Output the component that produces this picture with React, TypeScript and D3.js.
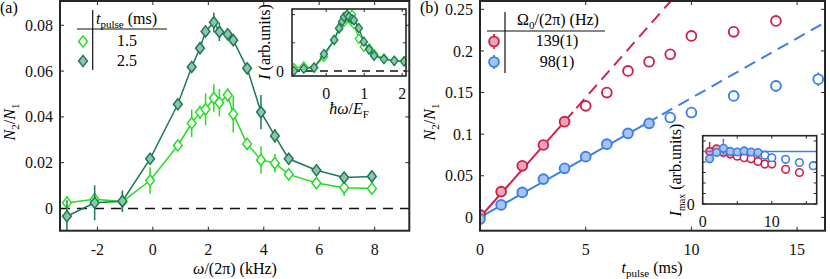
import React from "react";
import * as d3 from "d3";

// ---------- Data: panel (a) ----------
const freqKHz = [-3.1, -2.1, -1.1, -0.1, 0.9, 1.4, 1.7, 1.9, 2.2, 2.4, 2.7, 2.9, 3.4, 3.9, 4.4, 4.9, 5.9, 6.9, 7.9];
const ratio15 = [0.0025, 0.004, 0.003, 0.0122, 0.0275, 0.0372, 0.042, 0.0433, 0.0482, 0.0462, 0.0495, 0.0412, 0.0282, 0.0212, 0.0198, 0.0149, 0.0111, 0.0091, 0.0087];
const err15 = [0.003, 0.003, 0.004, 0.0058, 0.002, 0.006, 0.003, 0.007, 0.006, 0.006, 0.003, 0.008, 0.002, 0.006, 0.004, 0.002, 0.002, 0.0036, 0.002];
const ratio25 = [-0.0034, 0.0025, 0.0032, 0.0217, 0.0455, 0.0618, 0.07, 0.0773, 0.0813, 0.0771, 0.0761, 0.0735, 0.0612, 0.0421, 0.0317, 0.0217, 0.0167, 0.0135, 0.014];
const err25 = [0.007, 0.0076, 0.0047, 0.002, 0.002, 0.002, 0.002, 0.002, 0.0043, 0.004, 0.002, 0.002, 0.002, 0.0075, 0.003, 0.002, 0.0015, 0.0015, 0.002];

const insetAX = [-0.85, -0.59, -0.32, -0.06, 0.21, 0.34, 0.42, 0.47, 0.55, 0.6, 0.68, 0.73, 0.86, 0.99, 1.13, 1.26, 1.52, 1.79, 2.05];
const insetALight = [0.05, 0.08, 0.06, 0.25, 0.55, 0.75, 0.85, 0.87, 0.97, 0.93, 1.0, 0.83, 0.57, 0.43, 0.4, 0.3, 0.22, 0.18, 0.17];
const insetADark = [0.0, 0.04, 0.06, 0.3, 0.55, 0.76, 0.88, 0.96, 1.0, 0.96, 0.92, 0.9, 0.76, 0.52, 0.38, 0.27, 0.21, 0.18, 0.17];

const legendA = ["1.5", "2.5"];

// ---------- Data: panel (b) ----------
const tRed = [0, 1, 2, 3, 4, 5, 6, 7, 8, 9, 10, 12, 14];
const ratioRed = [0.003, 0.031, 0.062, 0.087, 0.115, 0.134, 0.15, 0.176, 0.187, 0.196, 0.218, 0.223, 0.236];
const errRed = [0.002, 0.003, 0.003, 0.003, 0.003, 0.003, 0.003, 0.003, 0.004, 0.006, 0.003, 0.003, 0.004];
const tBlue = [0, 1, 2, 3, 4, 5, 6, 7, 8, 9, 10, 12, 14, 16];
const ratioBlue = [-0.002, 0.015, 0.03, 0.046, 0.059, 0.073, 0.088, 0.101, 0.113, 0.12, 0.126, 0.146, 0.158, 0.166];
const errBlue = [0.002, 0.002, 0.002, 0.002, 0.002, 0.002, 0.002, 0.002, 0.002, 0.004, 0.003, 0.006, 0.007, 0.008];
const slopeRed = 0.0288;
const slopeBlue = 0.01435;
const fitEndRed = 4.4;
const fitEndBlue = 8.4;
const filledMaxRed = 4;
const filledMaxBlue = 8;

const tInRed = [1, 2, 3, 4, 5, 6, 7, 8, 9, 10, 12, 14];
const imaxRed = [1.0, 1.05, 0.98, 0.95, 0.91, 0.88, 0.86, 0.81, 0.76, 0.76, 0.66, 0.6];
const imaxRedErr = [0.18, 0.03, 0.03, 0.03, 0.03, 0.03, 0.03, 0.03, 0.03, 0.03, 0.03, 0.03];
const tInBlue = [1, 2, 3, 4, 5, 6, 7, 8, 9, 10, 12, 14, 16];
const imaxBlue = [0.86, 0.98, 1.06, 1.0, 0.99, 1.01, 0.99, 0.98, 0.93, 0.88, 0.85, 0.79, 0.73];
const imaxBlueErr = [0.03, 0.03, 0.18, 0.03, 0.03, 0.03, 0.03, 0.03, 0.03, 0.03, 0.03, 0.03, 0.03];
const imaxRef = 1.0;

const legendB = ["139(1)", "98(1)"];

// ---------- Style ----------
const FONT = "'Liberation Serif', 'Times New Roman', serif";
const AX = "#262626";
const DARK = "#1b7a55";
const DARK_FILL = "#8fc4a8";
const LIGHT = "#25dc25";
const RED = "#d0214b";
const RED_FILL = "#e9a7b7";
const BLUE = "#3b7fea";
const BLUE_FILL = "#a9c3ee";
const FS = 16;

const diamond = (hw: number, hh: number) => `M0,${-hh}L${hw},0L0,${hh}L${-hw},0Z`;

type Scale = d3.ScaleLinear<number, number>;

function Frame(p: {
  xs: Scale; ys: Scale; xTicks: number[]; yTicks: number[];
  xLabels: [number, string][]; yLabels: [number, string][];
  xLabBase: number; yLabGap: number; tl: number; sw: number; fill?: string; fs?: number;
}) {
  const [x0, x1] = p.xs.range();
  const [y0, y1] = p.ys.range();
  const fs = p.fs ?? FS;
  return (
    <g>
      <rect x={x0} y={y1} width={x1 - x0} height={y0 - y1} fill={p.fill ?? "none"} stroke="none" />
      {p.xTicks.map((t) => (
        <g key={"xt" + t} stroke={AX} strokeWidth={1}>
          <line x1={p.xs(t)} x2={p.xs(t)} y1={y0} y2={y0 - p.tl} />
          <line x1={p.xs(t)} x2={p.xs(t)} y1={y1} y2={y1 + p.tl} />
        </g>
      ))}
      {p.yTicks.map((t) => (
        <g key={"yt" + t} stroke={AX} strokeWidth={1}>
          <line x1={x0} x2={x0 + p.tl} y1={p.ys(t)} y2={p.ys(t)} />
          <line x1={x1} x2={x1 - p.tl} y1={p.ys(t)} y2={p.ys(t)} />
        </g>
      ))}
      {p.xLabels.map(([t, s]) => (
        <text key={"xl" + t} x={p.xs(t)} y={p.xLabBase} textAnchor="middle" fontSize={fs} fontFamily={FONT} fill="#111">{s}</text>
      ))}
      {p.yLabels.map(([t, s]) => (
        <text key={"yl" + t} x={x0 - p.yLabGap} y={p.ys(t)} dy="0.35em" textAnchor="end" fontSize={fs} fontFamily={FONT} fill="#111">{s}</text>
      ))}
    </g>
  );
}

function FrameBorder({ xs, ys, sw }: { xs: Scale; ys: Scale; sw: number }) {
  const [x0, x1] = xs.range();
  const [y0, y1] = ys.range();
  return <rect x={x0} y={y1} width={x1 - x0} height={y0 - y1} fill="none" stroke={AX} strokeWidth={sw} />;
}

export default function App() {
  // ---------- Panel (a) scales ----------
  const xa = d3.scaleLinear().domain([-3.35, 9.25]).range([60, 409.3]);
  const ya = d3.scaleLinear().domain([-0.0097, 0.0906]).range([230.7, 1]);
  const xia = d3.scaleLinear().domain([-0.9, 2.1]).range([292, 406]);
  const yia = d3.scaleLinear().domain([-0.09, 1.1]).range([76, 9]);

  // ---------- Panel (b) scales ----------
  const xb = d3.scaleLinear().domain([0, 16.32]).range([480, 825]);
  const yb = d3.scaleLinear().domain([-0.016, 0.26]).range([230.7, 1]);
  const xib = d3.scaleLinear().domain([0, 16.5]).range([702.7, 816.7]);
  const yib = d3.scaleLinear().domain([0, 1.3]).range([204, 135.7]);

  const lineA = d3.line<number>().x((_, i) => xa(freqKHz[i]));
  const pathLight = lineA.y((d) => ya(d))(ratio15) as string;
  const pathDark = d3.line<number>().x((_, i) => xa(freqKHz[i])).y((d) => ya(d))(ratio25) as string;
  const pathInLight = d3.line<number>().x((_, i) => xia(insetAX[i])).y((d) => yia(d))(insetALight) as string;
  const pathInDark = d3.line<number>().x((_, i) => xia(insetAX[i])).y((d) => yia(d))(insetADark) as string;

  const fit = (slope: number, t0: number, t1: number, xs: Scale, ys: Scale) =>
    d3.line<number>().x((t) => xs(t)).y((t) => ys(slope * t))([t0, t1]) as string;
  const tTopRed = Math.min(yb.domain()[1] / slopeRed, xb.domain()[1]);
  const tEndBlue = xb.domain()[1];

  const dMain = diamond(4.4, 5.6);
  const dIn = diamond(3.6, 4.6);

  const sub = (s: string, size = 11) => (
    <tspan fontSize={size} dy={4}>{s}</tspan>
  );

  return (
    <svg width={830} height={279} style={{ position: "absolute", left: 0, top: 0, background: "#fff" }} fontFamily={FONT}>
      <defs>
        <clipPath id="clipA"><rect x={60} y={1} width={349.3} height={229.7} /></clipPath>
        <clipPath id="clipB"><rect x={480} y={1} width={345} height={229.7} /></clipPath>
        <clipPath id="clipIA"><rect x={292} y={9} width={114} height={67} /></clipPath>
        <clipPath id="clipIB"><rect x={702.7} y={135.7} width={114} height={68.3} /></clipPath>
      </defs>

      {/* ================= Panel (a) ================= */}
      <Frame xs={xa} ys={ya} xTicks={[-2, 0, 2, 4, 6, 8]} yTicks={[0, 0.02, 0.04, 0.06, 0.08]}
        xLabels={[[-2, "-2"], [0, "0"], [2, "2"], [4, "4"], [6, "6"], [8, "8"]]}
        yLabels={[[0, "0"], [0.02, "0.02"], [0.04, "0.04"], [0.06, "0.06"], [0.08, "0.08"]]}
        xLabBase={255} yLabGap={7} tl={4} sw={2} />
      <g clipPath="url(#clipA)">
        <line x1={xa.range()[0]} x2={xa.range()[1]} y1={ya(0)} y2={ya(0)} stroke="#111" strokeWidth={1.6} strokeDasharray="10,7" />
        <path d={pathLight} fill="none" stroke={LIGHT} strokeWidth={1.5} />
        {freqKHz.map((f, i) => (
          <line key={"el" + i} x1={xa(f)} x2={xa(f)} y1={ya(ratio15[i] - err15[i])} y2={ya(ratio15[i] + err15[i])} stroke={LIGHT} strokeWidth={1.5} />
        ))}
        {freqKHz.map((f, i) => (
          <path key={"ml" + i} d={dMain} transform={`translate(${xa(f)},${ya(ratio15[i])})`} fill="#fff" stroke={LIGHT} strokeWidth={1.5} />
        ))}
        <path d={pathDark} fill="none" stroke={DARK} strokeWidth={1.5} />
        {freqKHz.map((f, i) => (
          <line key={"ed" + i} x1={xa(f)} x2={xa(f)} y1={ya(ratio25[i] - err25[i])} y2={ya(ratio25[i] + err25[i])} stroke={DARK} strokeWidth={1.5} />
        ))}
        {freqKHz.map((f, i) => (
          <path key={"md" + i} d={dMain} transform={`translate(${xa(f)},${ya(ratio25[i])})`} fill={DARK_FILL} stroke={DARK} strokeWidth={1.5} />
        ))}
      </g>
      <FrameBorder xs={xa} ys={ya} sw={2} />

      {/* legend (a) */}
      <g>
        <line x1={92.7} x2={92.7} y1={10} y2={70} stroke="#111" strokeWidth={1.2} />
        <line x1={77} x2={167} y1={29} y2={29} stroke="#111" strokeWidth={1.2} />
        <text x={96} y={24} fontSize={FS}>
          <tspan fontStyle="italic">t</tspan>{sub("pulse")}<tspan dy={-4}> (ms)</tspan>
        </text>
        <path d={dMain} transform="translate(83,41.5)" fill="#fff" stroke={LIGHT} strokeWidth={1.5} />
        <path d={dMain} transform="translate(83,61)" fill={DARK_FILL} stroke={DARK} strokeWidth={1.5} />
        <text x={127} y={46} textAnchor="middle" fontSize={FS}>{legendA[0]}</text>
        <text x={127} y={66} textAnchor="middle" fontSize={FS}>{legendA[1]}</text>
      </g>

      {/* inset (a) */}
      <Frame xs={xia} ys={yia} xTicks={[0, 1, 2]} yTicks={[0, 0.5, 1]}
        xLabels={[[0, "0"], [1, "1"], [2, "2"]]} yLabels={[[0, "0"]]}
        xLabBase={99} yLabGap={8} tl={3} sw={1.6} fill="#fff" />
      <g clipPath="url(#clipIA)">
        <line x1={xia.range()[0]} x2={xia.range()[1]} y1={yia(0)} y2={yia(0)} stroke="#111" strokeWidth={1.5} strokeDasharray="8,6" />
        <path d={pathInLight} fill="none" stroke={LIGHT} strokeWidth={1.3} />
        {insetAX.map((f, i) => (
          <path key={"il" + i} d={dIn} transform={`translate(${xia(f)},${yia(insetALight[i])})`} fill="#fff" stroke={LIGHT} strokeWidth={1.3} />
        ))}
        <path d={pathInDark} fill="none" stroke={DARK} strokeWidth={1.3} />
        {insetAX.map((f, i) => (
          <path key={"id" + i} d={dIn} transform={`translate(${xia(f)},${yia(insetADark[i])})`} fill={DARK_FILL} stroke={DARK} strokeWidth={1.3} />
        ))}
      </g>
      <FrameBorder xs={xia} ys={yia} sw={1.6} />
      <text transform="translate(270,42) rotate(-90)" textAnchor="middle" fontSize={FS}>
        <tspan fontStyle="italic">I</tspan> (arb.units)
      </text>
      <text x={349} y={114} textAnchor="middle" fontSize={FS}>
        <tspan fontStyle="italic">ħω</tspan>/<tspan fontStyle="italic">E</tspan>{sub("F")}
      </text>

      {/* axis labels (a) */}
      <text transform="translate(15,122) rotate(-90)" textAnchor="middle" fontSize={FS}>
        <tspan fontStyle="italic">N</tspan>{sub("2")}<tspan dy={-4}>/</tspan><tspan fontStyle="italic">N</tspan>{sub("1")}
      </text>
      <text x={235} y={274} textAnchor="middle" fontSize={FS}>
        <tspan fontStyle="italic">ω</tspan>/(2π) (kHz)
      </text>
      <text x={0} y={13} fontSize={FS}>(a)</text>

      {/* ================= Panel (b) ================= */}
      <Frame xs={xb} ys={yb} xTicks={[0, 5, 10, 15]} yTicks={[0, 0.05, 0.1, 0.15, 0.2, 0.25]}
        xLabels={[[0, "0"], [5, "5"], [10, "10"], [15, "15"]]}
        yLabels={[[0, "0"], [0.05, "0.05"], [0.1, "0.1"], [0.15, "0.15"], [0.2, "0.2"], [0.25, "0.25"]]}
        xLabBase={255} yLabGap={7} tl={4} sw={2} />
      <g clipPath="url(#clipB)">
        <path d={fit(slopeRed, 0, fitEndRed, xb, yb)} stroke={RED} strokeWidth={2} fill="none" />
        <path d={fit(slopeRed, fitEndRed, tTopRed, xb, yb)} stroke={RED} strokeWidth={2} fill="none" strokeDasharray="12,7" strokeDashoffset={-5} />
        <path d={fit(slopeBlue, 0, fitEndBlue, xb, yb)} stroke={BLUE} strokeWidth={2} fill="none" />
        <path d={fit(slopeBlue, fitEndBlue, tEndBlue, xb, yb)} stroke={BLUE} strokeWidth={2} fill="none" strokeDasharray="12,7" strokeDashoffset={-5} />
        {tRed.map((t, i) => (
          <g key={"r" + i}>
            <line x1={xb(t)} x2={xb(t)} y1={yb(ratioRed[i] - errRed[i])} y2={yb(ratioRed[i] + errRed[i])} stroke={RED} strokeWidth={1.8} />
            <circle cx={xb(t)} cy={yb(ratioRed[i])} r={4.9} fill={t <= filledMaxRed ? RED_FILL : "#fff"} stroke={RED} strokeWidth={1.9} />
          </g>
        ))}
        {tBlue.map((t, i) => (
          <g key={"b" + i}>
            <line x1={xb(t)} x2={xb(t)} y1={yb(ratioBlue[i] - errBlue[i])} y2={yb(ratioBlue[i] + errBlue[i])} stroke={BLUE} strokeWidth={1.8} />
            <circle cx={xb(t)} cy={yb(ratioBlue[i])} r={4.9} fill={t <= filledMaxBlue ? BLUE_FILL : "#fff"} stroke={BLUE} strokeWidth={1.9} />
          </g>
        ))}
      </g>
      <FrameBorder xs={xb} ys={yb} sw={2} />

      {/* legend (b) */}
      <g>
        <line x1={505} x2={505} y1={12} y2={73} stroke="#111" strokeWidth={1.2} />
        <line x1={487} x2={605} y1={31} y2={31} stroke="#111" strokeWidth={1.2} />
        <text x={558} y={25} textAnchor="middle" fontSize={FS}>
          Ω{sub("0")}<tspan dy={-4}>/(2π) (Hz)</tspan>
        </text>
        <line x1={494} x2={494} y1={34} y2={49} stroke={RED} strokeWidth={1.8} />
        <circle cx={494} cy={41.5} r={4.9} fill={RED_FILL} stroke={RED} strokeWidth={1.9} />
        <line x1={494} x2={494} y1={55} y2={69} stroke={BLUE} strokeWidth={1.8} />
        <circle cx={494} cy={62} r={4.9} fill={BLUE_FILL} stroke={BLUE} strokeWidth={1.9} />
        <text x={557} y={46} textAnchor="middle" fontSize={FS}>{legendB[0]}</text>
        <text x={557} y={67} textAnchor="middle" fontSize={FS}>{legendB[1]}</text>
      </g>

      {/* inset (b) */}
      <Frame xs={xib} ys={yib} xTicks={[0, 5, 10, 15]} yTicks={[0, 0.2, 0.4, 0.6, 0.8, 1.0, 1.2]}
        xLabels={[[0, "0"], [10, "10"]]} yLabels={[[0, "0"]]}
        xLabBase={227} yLabGap={8} tl={3} sw={1.6} fill="#fff" />
      <g clipPath="url(#clipIB)">
        {tInRed.map((t, i) => (
          <g key={"ir" + i}>
            <line x1={xib(t)} x2={xib(t)} y1={yib(imaxRed[i] - imaxRedErr[i])} y2={yib(imaxRed[i] + imaxRedErr[i])} stroke={RED} strokeWidth={1.5} />
            <circle cx={xib(t)} cy={yib(imaxRed[i])} r={3.8} fill={t <= filledMaxRed ? RED_FILL : "#fff"} stroke={RED} strokeWidth={1.6} />
          </g>
        ))}
        <line x1={xib.range()[0]} x2={xib.range()[1]} y1={yib(imaxRef)} y2={yib(imaxRef)} stroke={BLUE} strokeWidth={1.6} />
        {tInBlue.map((t, i) => (
          <g key={"ib" + i}>
            <line x1={xib(t)} x2={xib(t)} y1={yib(imaxBlue[i] - imaxBlueErr[i])} y2={yib(imaxBlue[i] + imaxBlueErr[i])} stroke={BLUE} strokeWidth={1.5} />
            <circle cx={xib(t)} cy={yib(imaxBlue[i])} r={3.8} fill={t <= filledMaxBlue ? BLUE_FILL : "#fff"} stroke={BLUE} strokeWidth={1.6} />
          </g>
        ))}
      </g>
      <FrameBorder xs={xib} ys={yib} sw={1.6} />
      <text transform="translate(681,170) rotate(-90)" textAnchor="middle" fontSize={FS}>
        <tspan fontStyle="italic">I</tspan>{sub("max", 10)}<tspan dy={-4}> (arb.units)</tspan>
      </text>

      {/* axis labels (b) */}
      <text transform="translate(435,122) rotate(-90)" textAnchor="middle" fontSize={FS}>
        <tspan fontStyle="italic">N</tspan>{sub("2")}<tspan dy={-4}>/</tspan><tspan fontStyle="italic">N</tspan>{sub("1")}
      </text>
      <text x={652} y={273} textAnchor="middle" fontSize={FS}>
        <tspan fontStyle="italic">t</tspan>{sub("pulse")}<tspan dy={-4}> (ms)</tspan>
      </text>
      <text x={420} y={13} fontSize={FS}>(b)</text>
    </svg>
  );
}
